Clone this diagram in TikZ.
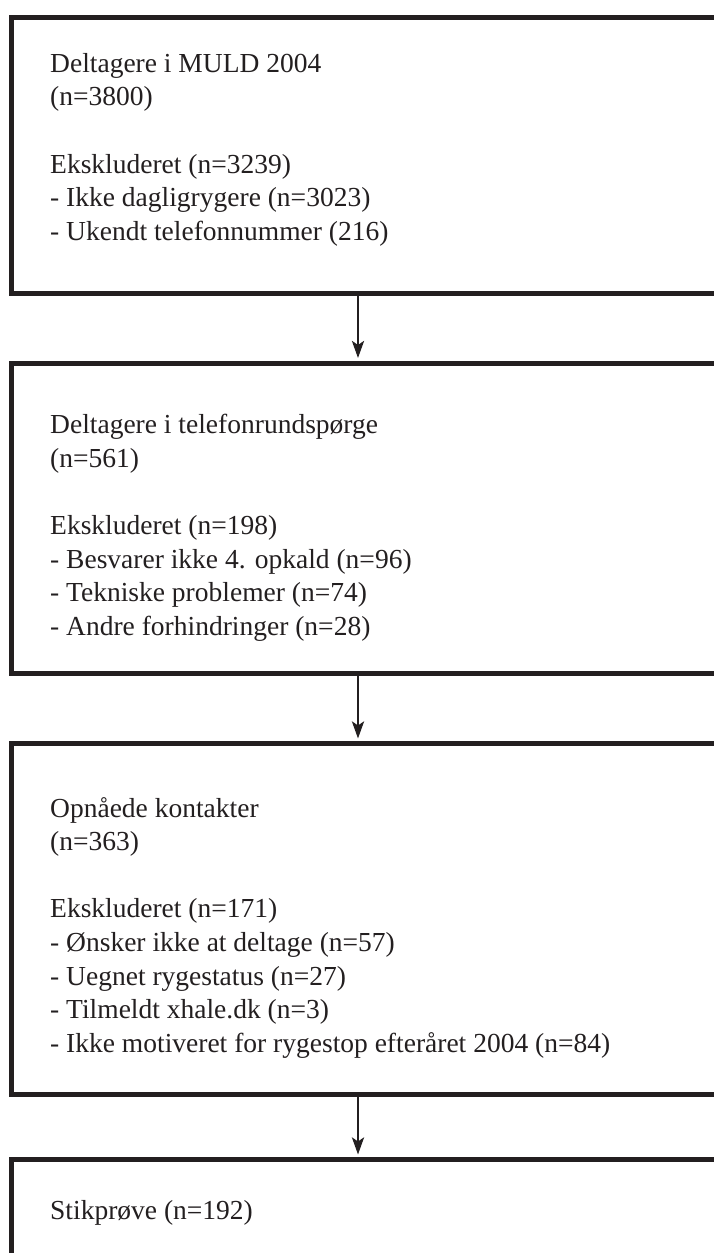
\documentclass[tikz,border=0pt]{standalone}
\usepackage{fontspec}
\setmainfont{Liberation Serif}
\usetikzlibrary{arrows.meta}
\definecolor{ink}{HTML}{231F20}
\tikzset{
  flowbox/.style={draw=ink, line width=5pt, rectangle, inner sep=0pt, anchor=north west},
  flowtext/.style={anchor=north west, inner sep=0pt, align=left, text=ink,
    font=\fontsize{27.5}{33.6}\selectfont},
  flowarrow/.style={draw=ink, line width=2.8pt, -{Stealth[length=17pt,width=12pt,inset=4pt]}, shorten >=2.5pt}
}
\newcommand{\fst}{\rule{0pt}{23.52pt}}
\begin{document}
\begin{tikzpicture}[x=1pt,y=-1pt]
\useasboundingbox (0,0) rectangle (714,1253);
\clip (0,0) rectangle (714,1253);
\fill[white] (0,0) rectangle (714,1253);
% boxes
\node[flowbox, minimum width=760pt, minimum height=276pt] (b1) at (9,14.5) {};
\node[flowbox, minimum width=760pt, minimum height=310.5pt] (b2) at (9,360.5) {};
\node[flowbox, minimum width=760pt, minimum height=351pt] (b3) at (9,741) {};
\node[flowbox, minimum width=760pt, minimum height=200pt] (b4) at (9,1157) {};
% texts
\node[flowtext] (t1) at (50,{72-23.52}) {\fst Deltagere i MULD 2004\\(n=3800)\\[33.6pt]Ekskluderet (n=3239)\\- Ikke dagligrygere (n=3023)\\- Ukendt telefonnummer (216)};
\node[flowtext] (t2) at (50,{433.4-23.52}) {\fst Deltagere i telefonrundspørge\\(n=561)\\[33.6pt]Ekskluderet (n=198)\\- Besvarer ikke 4. opkald (n=96)\\- Tekniske problemer (n=74)\\- Andre forhindringer (n=28)};
\node[flowtext] (t3) at (50,{816.8-23.52}) {\fst Opnåede kontakter\\(n=363)\\[33.6pt]Ekskluderet (n=171)\\- Ønsker ikke at deltage (n=57)\\- Uegnet rygestatus (n=27)\\- Tilmeldt xhale.dk (n=3)\\- Ikke motiveret for rygestop efteråret 2004 (n=84)};
\node[flowtext] (t4) at (50,{1219-23.52}) {\fst Stikprøve (n=192)};
% arrows
\coordinate (ax) at (358,0);
\draw[flowarrow] (b1.south -| ax) -- (b2.north -| ax);
\draw[flowarrow] (b2.south -| ax) -- (b3.north -| ax);
\draw[flowarrow] (b3.south -| ax) -- (b4.north -| ax);
\end{tikzpicture}
\end{document}
